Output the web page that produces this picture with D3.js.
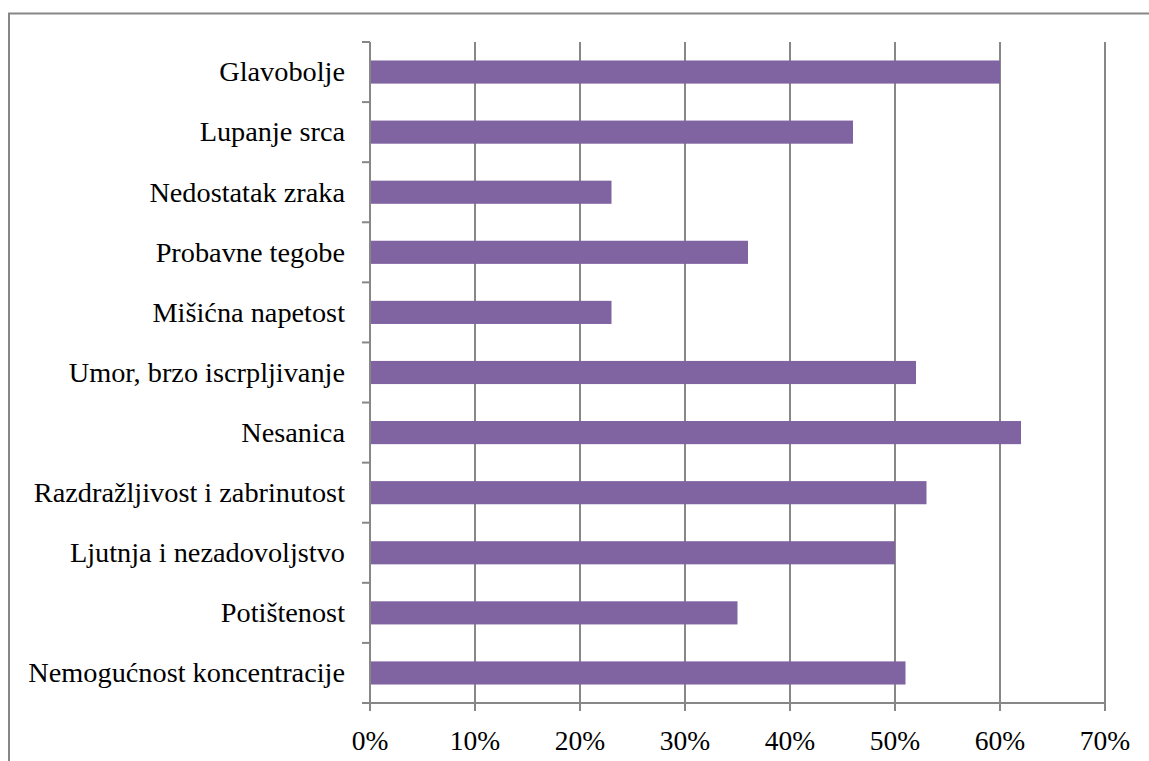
<!DOCTYPE html>
<html><head><meta charset="utf-8">
<script src="https://cdn.jsdelivr.net/npm/d3@7"></script>
<style>body{margin:0;background:#fff}svg{display:block}text{font-family:"Liberation Serif","DejaVu Serif",serif;fill:#000}</style>
</head><body>
<script>
const categories = ["Glavobolje","Lupanje srca","Nedostatak zraka","Probavne tegobe","Mišićna napetost","Umor, brzo iscrpljivanje","Nesanica","Razdražljivost i zabrinutost","Ljutnja i nezadovoljstvo","Potištenost","Nemogućnost koncentracije"];
const values = [0.60,0.46,0.23,0.36,0.23,0.52,0.62,0.53,0.50,0.35,0.51];
const xTicks = [0,0.1,0.2,0.3,0.4,0.5,0.6,0.7];
const xTickLabels = ["0%","10%","20%","30%","40%","50%","60%","70%"];

(function(){
const W=1149,H=761;
const svg=d3.select("body").append("svg").attr("width",W).attr("height",H);
const pL=370,pR=1105,pT=42,pB=703;
const x=d3.scaleLinear().domain([0,0.7]).range([pL,pR]);
const y=d3.scaleBand().domain(categories).range([pT,pB]).padding(0);
const grey="#878787";

svg.append("rect").attr("x",9).attr("y",13.5).attr("width",1300).attr("height",1000)
  .attr("fill","none").attr("stroke",grey).attr("stroke-width",2);

svg.selectAll("line.grid").data(xTicks).join("line")
  .attr("x1",d=>x(d)).attr("x2",d=>x(d)).attr("y1",pT).attr("y2",pB+8)
  .attr("stroke",grey).attr("stroke-width",2);
svg.append("line").attr("x1",pL-8).attr("x2",pR).attr("y1",pB).attr("y2",pB)
  .attr("stroke",grey).attr("stroke-width",2);
const bounds=categories.map(c=>y(c)).concat([pB]);
svg.selectAll("line.yt").data(bounds).join("line")
  .attr("x1",pL-8).attr("x2",pL).attr("y1",d=>d).attr("y2",d=>d)
  .attr("stroke",grey).attr("stroke-width",2);

const bh=y.bandwidth()*0.385;
svg.selectAll("rect.bar").data(categories).join("rect")
  .attr("x",x(0)+1).attr("y",c=>y(c)+y.bandwidth()/2-bh/2)
  .attr("width",(c,i)=>x(values[i])-x(0)-1).attr("height",bh)
  .attr("fill","#8064A2");

svg.selectAll("text.yl").data(categories).join("text")
  .attr("x",345).attr("y",c=>y(c)+y.bandwidth()/2).attr("dy","0.33em")
  .attr("text-anchor","end").attr("font-size",28.3).text(c=>c);
svg.selectAll("text.xl").data(xTicks).join("text")
  .attr("x",d=>x(d)).attr("y",741).attr("dy","0.33em")
  .attr("text-anchor","middle").attr("font-size",27.5).text((d,i)=>xTickLabels[i]);
})();
</script>
</body></html>
